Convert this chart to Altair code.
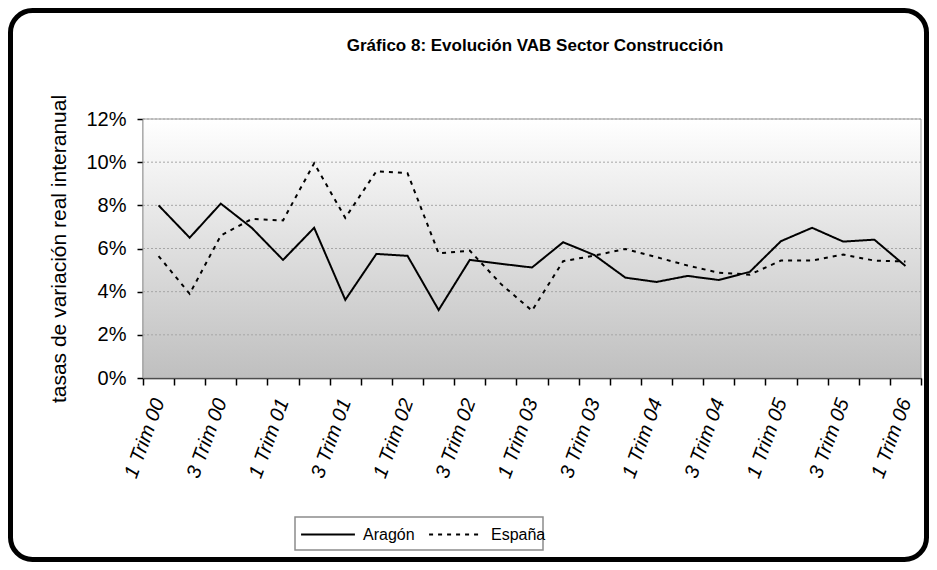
import altair as alt
import pandas as pd

categories = [
    "1 Trim 00", "2 Trim 00", "3 Trim 00", "4 Trim 00",
    "1 Trim 01", "2 Trim 01", "3 Trim 01", "4 Trim 01",
    "1 Trim 02", "2 Trim 02", "3 Trim 02", "4 Trim 02",
    "1 Trim 03", "2 Trim 03", "3 Trim 03", "4 Trim 03",
    "1 Trim 04", "2 Trim 04", "3 Trim 04", "4 Trim 04",
    "1 Trim 05", "2 Trim 05", "3 Trim 05", "4 Trim 05",
    "1 Trim 06",
]
aragon = [8.0, 6.5, 8.08, 6.95, 5.47, 6.96, 3.62, 5.75, 5.66, 3.15, 5.47, 5.29, 5.12,
          6.29, 5.7, 4.65, 4.45, 4.73, 4.54, 4.92, 6.34, 6.96, 6.32, 6.41, 5.19]
espana = [5.65, 3.9, 6.6, 7.37, 7.3, 9.95, 7.42, 9.58, 9.49, 5.78, 5.9, 4.36, 3.12,
          5.41, 5.67, 5.98, 5.6, 5.21, 4.88, 4.79, 5.44, 5.44, 5.72, 5.44, 5.4]
series = ["Aragón", "España"]
y_ticks = [0, 2, 4, 6, 8, 10, 12]
title_text = "Gráfico 8: Evolución VAB Sector Construcción"

W, H = 778, 259
FONT = "Liberation Sans"

df = pd.DataFrame({
    "trim": categories * 2,
    "serie": [series[0]] * len(aragon) + [series[1]] * len(espana),
    "valor": [v / 100 for v in aragon + espana],
})
grid_df = pd.DataFrame({"valor": [t / 100 for t in y_ticks[1:]]})
one = pd.DataFrame({"d": [0]})

yscale = alt.Scale(domain=[0, 0.12], nice=False, zero=True)
yaxis = alt.Axis(
    values=[t / 100 for t in y_ticks], format=".0%", grid=False,
    domainColor="black", domainWidth=1.5, tickColor="black", tickSize=6, tickWidth=1.5,
    labelFont=FONT, labelFontSize=20, labelColor="black", labelPadding=11,
    title="tasas de variación real interanual", titleFont=FONT, titleFontSize=21,
    titleFontWeight="normal", titleColor="black", titlePadding=16,
)
yenc = alt.Y("valor:Q", scale=yscale, axis=yaxis)

xaxis = alt.Axis(
    title=None, tickBand="extent", domainColor="black", domainWidth=1.5,
    tickColor="black", tickSize=7, tickWidth=1.5, labelAngle=-70, labelAlign="right",
    labelBaseline="middle", labelFont=FONT, labelFontSize=20, labelFontStyle="italic",
    labelColor="black", labelPadding=14, labelOverlap=False,
    labelExpr="(substring(datum.value, 0, 1) == '1' || substring(datum.value, 0, 1) == '3') ? datum.value : ''",
)
xenc = alt.X("trim:N", sort=categories,
             scale=alt.Scale(type="band", paddingInner=0, paddingOuter=0), axis=xaxis)

gradient = alt.LinearGradient(
    gradient="linear",
    stops=[alt.GradientStop(color="#ffffff", offset=0),
           alt.GradientStop(color="#bfbfbf", offset=1)],
    x1=0, x2=0, y1=0, y2=1,
)

bg = alt.Chart(one).mark_rect(fill=gradient, stroke="#9a9a9a", strokeWidth=1).encode(
    x=alt.value(0), x2=alt.value(W), y=alt.value(0), y2=alt.value(H)
)

grid = alt.Chart(grid_df).mark_rule(color="#a6a6a6", strokeDash=[2, 2], strokeWidth=1).encode(
    y=yenc
)

legend_box = alt.Chart(one).mark_rect(fill="white", stroke="#8c8c8c", strokeWidth=1.5).encode(
    x=alt.value(152), x2=alt.value(400), y=alt.value(398), y2=alt.value(431)
)

lines = alt.Chart(df).mark_line(color="black", strokeWidth=2).encode(
    x=xenc,
    y=yenc,
    strokeDash=alt.StrokeDash(
        "serie:N",
        scale=alt.Scale(domain=series, range=[[1, 0], [4, 5]]),
        legend=alt.Legend(
            title=None, orient="none", legendX=157, legendY=387.6,
            direction="horizontal", symbolType="stroke", symbolSize=2900,
            symbolStrokeWidth=2, symbolStrokeColor="black",
            labelFont=FONT, labelFontSize=16, labelColor="black",
            labelOffset=7, columnPadding=10, padding=0,
        ),
    ),
)

title = alt.Chart(one).mark_text(
    text=title_text, font=FONT, fontSize=17, fontWeight="bold", color="black",
    align="center", baseline="alphabetic",
).encode(x=alt.value(392), y=alt.value(-68))

border = alt.Chart(one).mark_rect(
    fillOpacity=0, stroke="black", strokeWidth=5, cornerRadius=22
).encode(
    x=alt.value(-132.5), x2=alt.value(W + 5.5), y=alt.value(-108.5), y2=alt.value(440.5)
)

chart = alt.layer(bg, grid, legend_box, lines, title, border).properties(
    width=W, height=H,
    autosize=alt.AutoSizeParams(type="none"),
    padding={"left": 135, "top": 111, "right": 8, "bottom": 184},
    background="white",
).configure_view(stroke=None)

chart.save("out.html", embed_options={"renderer": "svg", "actions": False})
